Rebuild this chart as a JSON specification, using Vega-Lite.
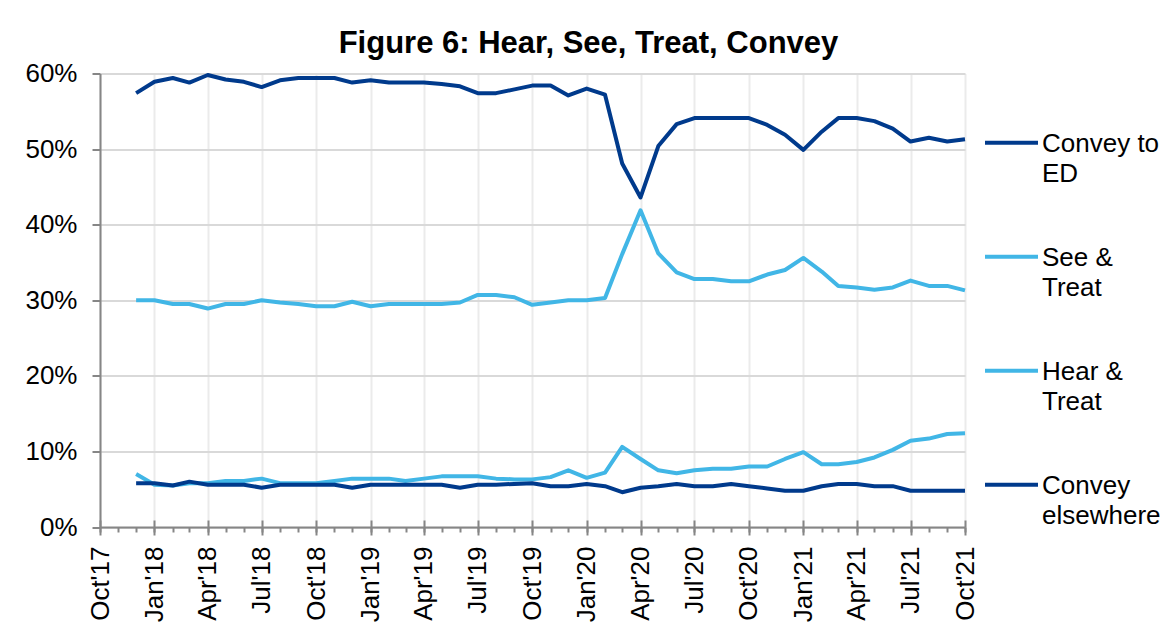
{
"$schema": "https://vega.github.io/schema/vega-lite/v6.json",
"width": 865,
"height": 453.5,
"autosize": {"type": "none"},
"padding": {"left": 100, "top": 73.5, "right": 206, "bottom": 96},
"background": "white",
"title": {"text": "Figure 6: Hear, See, Treat, Convey", "anchor": "middle", "frame": "group", "font": "Liberation Sans", "fontSize": 31, "fontWeight": "bold", "color": "black", "baseline": "alphabetic", "dx": 56, "dy": 35, "offset": 12},
"datasets": {
"d": [
{"month":"2017-12-01","series":"Convey to ED","value":57.4},{"month":"2018-01-01","series":"Convey to ED","value":58.9},{"month":"2018-02-01","series":"Convey to ED","value":59.4},{"month":"2018-03-01","series":"Convey to ED","value":58.8},{"month":"2018-04-01","series":"Convey to ED","value":59.8},{"month":"2018-05-01","series":"Convey to ED","value":59.2},{"month":"2018-06-01","series":"Convey to ED","value":58.9},{"month":"2018-07-01","series":"Convey to ED","value":58.2},{"month":"2018-08-01","series":"Convey to ED","value":59.1},{"month":"2018-09-01","series":"Convey to ED","value":59.4},
{"month":"2018-10-01","series":"Convey to ED","value":59.4},{"month":"2018-11-01","series":"Convey to ED","value":59.4},{"month":"2018-12-01","series":"Convey to ED","value":58.8},{"month":"2019-01-01","series":"Convey to ED","value":59.1},{"month":"2019-02-01","series":"Convey to ED","value":58.8},{"month":"2019-03-01","series":"Convey to ED","value":58.8},{"month":"2019-04-01","series":"Convey to ED","value":58.8},{"month":"2019-05-01","series":"Convey to ED","value":58.6},{"month":"2019-06-01","series":"Convey to ED","value":58.3},{"month":"2019-07-01","series":"Convey to ED","value":57.4},
{"month":"2019-08-01","series":"Convey to ED","value":57.4},{"month":"2019-09-01","series":"Convey to ED","value":57.9},{"month":"2019-10-01","series":"Convey to ED","value":58.4},{"month":"2019-11-01","series":"Convey to ED","value":58.4},{"month":"2019-12-01","series":"Convey to ED","value":57.1},{"month":"2020-01-01","series":"Convey to ED","value":58.0},{"month":"2020-02-01","series":"Convey to ED","value":57.2},{"month":"2020-03-01","series":"Convey to ED","value":48.1},{"month":"2020-04-01","series":"Convey to ED","value":43.6},{"month":"2020-05-01","series":"Convey to ED","value":50.4},
{"month":"2020-06-01","series":"Convey to ED","value":53.3},{"month":"2020-07-01","series":"Convey to ED","value":54.1},{"month":"2020-08-01","series":"Convey to ED","value":54.1},{"month":"2020-09-01","series":"Convey to ED","value":54.1},{"month":"2020-10-01","series":"Convey to ED","value":54.1},{"month":"2020-11-01","series":"Convey to ED","value":53.2},{"month":"2020-12-01","series":"Convey to ED","value":51.9},{"month":"2021-01-01","series":"Convey to ED","value":49.9},{"month":"2021-02-01","series":"Convey to ED","value":52.3},{"month":"2021-03-01","series":"Convey to ED","value":54.1},
{"month":"2021-04-01","series":"Convey to ED","value":54.1},{"month":"2021-05-01","series":"Convey to ED","value":53.7},{"month":"2021-06-01","series":"Convey to ED","value":52.7},{"month":"2021-07-01","series":"Convey to ED","value":51.0},{"month":"2021-08-01","series":"Convey to ED","value":51.5},{"month":"2021-09-01","series":"Convey to ED","value":51.0},{"month":"2021-10-01","series":"Convey to ED","value":51.3},

{"month":"2017-12-01","series":"See & Treat","value":30.0},{"month":"2018-01-01","series":"See & Treat","value":30.0},{"month":"2018-02-01","series":"See & Treat","value":29.5},{"month":"2018-03-01","series":"See & Treat","value":29.5},{"month":"2018-04-01","series":"See & Treat","value":28.9},{"month":"2018-05-01","series":"See & Treat","value":29.5},{"month":"2018-06-01","series":"See & Treat","value":29.5},{"month":"2018-07-01","series":"See & Treat","value":30.0},{"month":"2018-08-01","series":"See & Treat","value":29.7},{"month":"2018-09-01","series":"See & Treat","value":29.5},
{"month":"2018-10-01","series":"See & Treat","value":29.2},{"month":"2018-11-01","series":"See & Treat","value":29.2},{"month":"2018-12-01","series":"See & Treat","value":29.8},{"month":"2019-01-01","series":"See & Treat","value":29.2},{"month":"2019-02-01","series":"See & Treat","value":29.5},{"month":"2019-03-01","series":"See & Treat","value":29.5},{"month":"2019-04-01","series":"See & Treat","value":29.5},{"month":"2019-05-01","series":"See & Treat","value":29.5},{"month":"2019-06-01","series":"See & Treat","value":29.7},{"month":"2019-07-01","series":"See & Treat","value":30.7},
{"month":"2019-08-01","series":"See & Treat","value":30.7},{"month":"2019-09-01","series":"See & Treat","value":30.4},{"month":"2019-10-01","series":"See & Treat","value":29.4},{"month":"2019-11-01","series":"See & Treat","value":29.7},{"month":"2019-12-01","series":"See & Treat","value":30.0},{"month":"2020-01-01","series":"See & Treat","value":30.0},{"month":"2020-02-01","series":"See & Treat","value":30.3},{"month":"2020-03-01","series":"See & Treat","value":36.1},{"month":"2020-04-01","series":"See & Treat","value":41.9},{"month":"2020-05-01","series":"See & Treat","value":36.2},
{"month":"2020-06-01","series":"See & Treat","value":33.7},{"month":"2020-07-01","series":"See & Treat","value":32.8},{"month":"2020-08-01","series":"See & Treat","value":32.8},{"month":"2020-09-01","series":"See & Treat","value":32.5},{"month":"2020-10-01","series":"See & Treat","value":32.5},{"month":"2020-11-01","series":"See & Treat","value":33.4},{"month":"2020-12-01","series":"See & Treat","value":34.0},{"month":"2021-01-01","series":"See & Treat","value":35.6},{"month":"2021-02-01","series":"See & Treat","value":33.8},{"month":"2021-03-01","series":"See & Treat","value":31.9},
{"month":"2021-04-01","series":"See & Treat","value":31.7},{"month":"2021-05-01","series":"See & Treat","value":31.4},{"month":"2021-06-01","series":"See & Treat","value":31.7},{"month":"2021-07-01","series":"See & Treat","value":32.6},{"month":"2021-08-01","series":"See & Treat","value":31.9},{"month":"2021-09-01","series":"See & Treat","value":31.9},{"month":"2021-10-01","series":"See & Treat","value":31.3},

{"month":"2017-12-01","series":"Hear & Treat","value":7.0},{"month":"2018-01-01","series":"Hear & Treat","value":5.6},{"month":"2018-02-01","series":"Hear & Treat","value":5.5},{"month":"2018-03-01","series":"Hear & Treat","value":5.8},{"month":"2018-04-01","series":"Hear & Treat","value":5.8},{"month":"2018-05-01","series":"Hear & Treat","value":6.1},{"month":"2018-06-01","series":"Hear & Treat","value":6.1},{"month":"2018-07-01","series":"Hear & Treat","value":6.4},{"month":"2018-08-01","series":"Hear & Treat","value":5.8},{"month":"2018-09-01","series":"Hear & Treat","value":5.8},
{"month":"2018-10-01","series":"Hear & Treat","value":5.8},{"month":"2018-11-01","series":"Hear & Treat","value":6.1},{"month":"2018-12-01","series":"Hear & Treat","value":6.4},{"month":"2019-01-01","series":"Hear & Treat","value":6.4},{"month":"2019-02-01","series":"Hear & Treat","value":6.4},{"month":"2019-03-01","series":"Hear & Treat","value":6.1},{"month":"2019-04-01","series":"Hear & Treat","value":6.4},{"month":"2019-05-01","series":"Hear & Treat","value":6.7},{"month":"2019-06-01","series":"Hear & Treat","value":6.7},{"month":"2019-07-01","series":"Hear & Treat","value":6.7},
{"month":"2019-08-01","series":"Hear & Treat","value":6.4},{"month":"2019-09-01","series":"Hear & Treat","value":6.3},{"month":"2019-10-01","series":"Hear & Treat","value":6.3},{"month":"2019-11-01","series":"Hear & Treat","value":6.6},{"month":"2019-12-01","series":"Hear & Treat","value":7.5},{"month":"2020-01-01","series":"Hear & Treat","value":6.5},{"month":"2020-02-01","series":"Hear & Treat","value":7.2},{"month":"2020-03-01","series":"Hear & Treat","value":10.6},{"month":"2020-04-01","series":"Hear & Treat","value":9.0},{"month":"2020-05-01","series":"Hear & Treat","value":7.5},
{"month":"2020-06-01","series":"Hear & Treat","value":7.1},{"month":"2020-07-01","series":"Hear & Treat","value":7.5},{"month":"2020-08-01","series":"Hear & Treat","value":7.7},{"month":"2020-09-01","series":"Hear & Treat","value":7.7},{"month":"2020-10-01","series":"Hear & Treat","value":8.0},{"month":"2020-11-01","series":"Hear & Treat","value":8.0},{"month":"2020-12-01","series":"Hear & Treat","value":9.0},{"month":"2021-01-01","series":"Hear & Treat","value":9.9},{"month":"2021-02-01","series":"Hear & Treat","value":8.3},{"month":"2021-03-01","series":"Hear & Treat","value":8.3},
{"month":"2021-04-01","series":"Hear & Treat","value":8.6},{"month":"2021-05-01","series":"Hear & Treat","value":9.2},{"month":"2021-06-01","series":"Hear & Treat","value":10.2},{"month":"2021-07-01","series":"Hear & Treat","value":11.4},{"month":"2021-08-01","series":"Hear & Treat","value":11.7},{"month":"2021-09-01","series":"Hear & Treat","value":12.3},{"month":"2021-10-01","series":"Hear & Treat","value":12.4},

{"month":"2017-12-01","series":"Convey elsewhere","value":5.8},{"month":"2018-01-01","series":"Convey elsewhere","value":5.8},{"month":"2018-02-01","series":"Convey elsewhere","value":5.5},{"month":"2018-03-01","series":"Convey elsewhere","value":6.0},{"month":"2018-04-01","series":"Convey elsewhere","value":5.6},{"month":"2018-05-01","series":"Convey elsewhere","value":5.6},{"month":"2018-06-01","series":"Convey elsewhere","value":5.6},{"month":"2018-07-01","series":"Convey elsewhere","value":5.2},{"month":"2018-08-01","series":"Convey elsewhere","value":5.6},{"month":"2018-09-01","series":"Convey elsewhere","value":5.6},
{"month":"2018-10-01","series":"Convey elsewhere","value":5.6},{"month":"2018-11-01","series":"Convey elsewhere","value":5.6},{"month":"2018-12-01","series":"Convey elsewhere","value":5.2},{"month":"2019-01-01","series":"Convey elsewhere","value":5.6},{"month":"2019-02-01","series":"Convey elsewhere","value":5.6},{"month":"2019-03-01","series":"Convey elsewhere","value":5.6},{"month":"2019-04-01","series":"Convey elsewhere","value":5.6},{"month":"2019-05-01","series":"Convey elsewhere","value":5.6},{"month":"2019-06-01","series":"Convey elsewhere","value":5.2},{"month":"2019-07-01","series":"Convey elsewhere","value":5.6},
{"month":"2019-08-01","series":"Convey elsewhere","value":5.6},{"month":"2019-09-01","series":"Convey elsewhere","value":5.7},{"month":"2019-10-01","series":"Convey elsewhere","value":5.8},{"month":"2019-11-01","series":"Convey elsewhere","value":5.4},{"month":"2019-12-01","series":"Convey elsewhere","value":5.4},{"month":"2020-01-01","series":"Convey elsewhere","value":5.7},{"month":"2020-02-01","series":"Convey elsewhere","value":5.4},{"month":"2020-03-01","series":"Convey elsewhere","value":4.6},{"month":"2020-04-01","series":"Convey elsewhere","value":5.2},{"month":"2020-05-01","series":"Convey elsewhere","value":5.4},
{"month":"2020-06-01","series":"Convey elsewhere","value":5.7},{"month":"2020-07-01","series":"Convey elsewhere","value":5.4},{"month":"2020-08-01","series":"Convey elsewhere","value":5.4},{"month":"2020-09-01","series":"Convey elsewhere","value":5.7},{"month":"2020-10-01","series":"Convey elsewhere","value":5.4},{"month":"2020-11-01","series":"Convey elsewhere","value":5.1},{"month":"2020-12-01","series":"Convey elsewhere","value":4.8},{"month":"2021-01-01","series":"Convey elsewhere","value":4.8},{"month":"2021-02-01","series":"Convey elsewhere","value":5.4},{"month":"2021-03-01","series":"Convey elsewhere","value":5.7},
{"month":"2021-04-01","series":"Convey elsewhere","value":5.7},{"month":"2021-05-01","series":"Convey elsewhere","value":5.4},{"month":"2021-06-01","series":"Convey elsewhere","value":5.4},{"month":"2021-07-01","series":"Convey elsewhere","value":4.8},{"month":"2021-08-01","series":"Convey elsewhere","value":4.8},{"month":"2021-09-01","series":"Convey elsewhere","value":4.8},{"month":"2021-10-01","series":"Convey elsewhere","value":4.8}
]
},
"data": {"name": "d"},
"resolve": {"axis": {"x": "independent"}},
"layer": [
{
"mark": {"type": "rule", "opacity": 0},
"encoding": {
"x": {"field": "month", "type": "temporal", "scale": {"type": "utc", "domain": [{"year": 2017, "month": 10, "date": 1, "utc": true}, {"year": 2021, "month": 10, "date": 1, "utc": true}], "nice": false},
"axis": {"orient": "bottom", "tickCount": {"interval": "month", "step": 1}, "labels": false, "grid": false, "domain": false, "tickSize": 5, "title": null}}
}
},
{
"mark": {"type": "rule", "opacity": 0},
"encoding": {
"x": {"field": "month", "type": "temporal",
"axis": {"orient": "bottom", "tickCount": {"interval": "month", "step": 3}, "labels": false, "grid": false, "domain": false, "tickSize": -7, "title": null}}
}
},
{
"mark": {"type": "line", "strokeJoin": "round", "strokeCap": "butt"},
"encoding": {
"x": {"field": "month", "type": "temporal",
"axis": {"orient": "bottom", "tickCount": {"interval": "month", "step": 3}, "format": "%b'%y", "labelAngle": -90, "labelPadding": 11, "tickSize": 8, "grid": true, "gridColor": "#ebebeb", "gridWidth": 2, "labelFlush": false, "labelOverlap": false, "title": null, "domain": true}},
"y": {"field": "value", "type": "quantitative", "scale": {"domain": [0, 60], "nice": false},
"axis": {"values": [0, 10, 20, 30, 40, 50, 60], "labelExpr": "datum.value + '%'", "grid": true, "gridColor": "#d9d9d9", "gridWidth": 2, "tickSize": 8, "labelPadding": 15, "title": null}},
"color": {"field": "series", "type": "nominal",
"scale": {"domain": ["Convey to ED", "See & Treat", "Hear & Treat", "Convey elsewhere"], "range": ["#003A8C", "#41B6E6", "#41B6E6", "#003A8C"]},
"legend": {"orient": "none", "legendX": 883, "legendY": 50, "title": null, "symbolType": "M-1,-0.35H1", "symbolSize": 2809, "labelOffset": 2, "labelBaseline": "alphabetic", "labelLimit": 300, "rowPadding": 50, "padding": 0,
"labelExpr": "datum.label == 'Convey to ED' ? ['Convey to', 'ED'] : datum.label == 'See & Treat' ? ['See &', 'Treat'] : datum.label == 'Hear & Treat' ? ['Hear &', 'Treat'] : ['Convey', 'elsewhere']"}},
"strokeWidth": {"field": "series", "type": "nominal",
"scale": {"domain": ["Convey to ED", "See & Treat", "Hear & Treat", "Convey elsewhere"], "range": [4, 4, 2.5, 2.5]},
"legend": {"orient": "none", "legendX": 883, "legendY": 50, "title": null, "symbolType": "M-1,-0.35H1", "symbolSize": 2809, "labelOffset": 2, "labelBaseline": "alphabetic", "labelLimit": 300, "rowPadding": 50, "padding": 0,
"labelExpr": "datum.label == 'Convey to ED' ? ['Convey to', 'ED'] : datum.label == 'See & Treat' ? ['See &', 'Treat'] : datum.label == 'Hear & Treat' ? ['Hear &', 'Treat'] : ['Convey', 'elsewhere']"}}
}
}
],
"config": {
"font": "Liberation Sans",
"view": {"stroke": null},
"axis": {"labelFont": "Liberation Sans", "labelFontSize": 26, "labelColor": "black", "domainColor": "#868686", "domainWidth": 2, "tickColor": "#868686", "tickWidth": 2},
"legend": {"labelFont": "Liberation Sans", "labelFontSize": 26, "labelColor": "black"},
"style": {"guide-label": {"lineHeight": 30}}
}
}
